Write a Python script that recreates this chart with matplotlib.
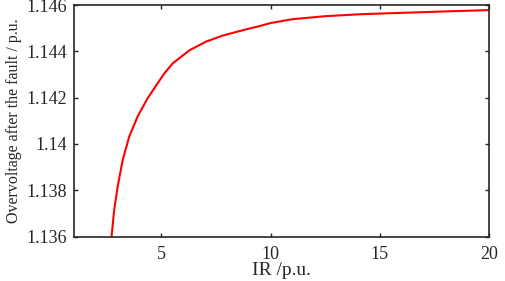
import matplotlib
matplotlib.use('Agg')
import matplotlib.pyplot as plt

# Points
ir_pu = [2.72, 2.84, 3.00, 3.23, 3.53, 3.91, 4.37, 4.83, 5.14, 5.52, 6.28,
         7.05, 7.81, 8.89, 9.50, 10.0, 11.02, 12.55, 14.08, 15.0, 17.6, 20.0]
overvoltage = [1.13600, 1.13715, 1.13816, 1.13931, 1.14032, 1.14118, 1.14197,
               1.14262, 1.14305, 1.14348, 1.14404, 1.14442, 1.14468, 1.14495,
               1.14509, 1.14522, 1.14539, 1.14552, 1.14560, 1.14563, 1.14571,
               1.14578]

x_ticks = [5, 10, 15, 20]
y_ticks = [1.136, 1.138, 1.140, 1.142, 1.144, 1.146]
y_tick_labels = ['1.136', '1.138', '1.14', '1.142', '1.144', '1.146']

plt.rcParams['font.family'] = ['Liberation Serif', 'DejaVu Serif']

fig = plt.figure(figsize=(5.05, 2.81), dpi=100)
ax = fig.add_axes([74 / 505, 1 - 236.5 / 281, (489 - 74) / 505, (236.5 - 5) / 281])

ax.plot(ir_pu, overvoltage, color='#ff0000', lw=1.5, solid_joinstyle='round')

ax.set_xlim(1, 20)
ax.set_ylim(1.136, 1.146)
ax.set_xticks(x_ticks)
ax.set_yticks(y_ticks)
ax.set_yticklabels(y_tick_labels)

ax.tick_params(direction='in', top=True, right=True, length=3, width=1,
               labelsize=13, colors='#262626', pad=5)
ax.tick_params(axis='x', pad=7)
for s in ax.spines.values():
    s.set_linewidth(1.2)
    s.set_color('#262626')

ax.set_xlabel('IR /p.u.', fontsize=14, color='#262626', labelpad=-1)
ax.set_ylabel('Overvoltage after the fault / p.u.', fontsize=11.5, color='#262626', labelpad=3)

fig.savefig('out.png', dpi=100, facecolor='white')
